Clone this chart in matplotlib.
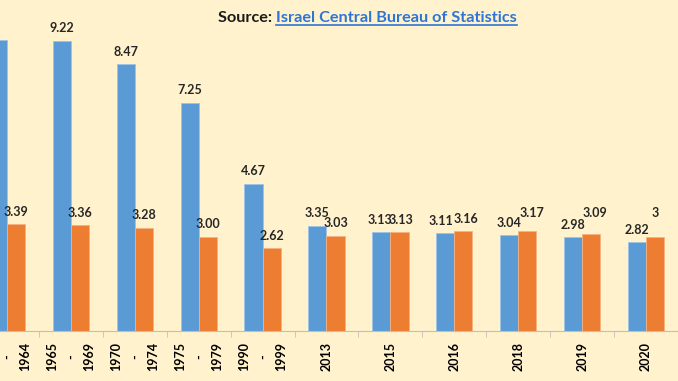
import matplotlib.pyplot as plt
import numpy as np

periods = ["1960\n-\n1964", "1965\n-\n1969", "1970\n-\n1974", "1975\n-\n1979",
           "1990\n-\n1999", "2013", "2015", "2016", "2018", "2019", "2020"]
series_a = [9.23, 9.22, 8.47, 7.25, 4.67, 3.35, 3.13, 3.11, 3.04, 2.98, 2.82]
series_b = [3.39, 3.36, 3.28, 3.00, 2.62, 3.03, 3.13, 3.16, 3.17, 3.09, 3.00]
labels_a = ["9.23", "9.22", "8.47", "7.25", "4.67", "3.35", "3.13", "3.11", "3.04", "2.98", "2.82"]
labels_b = ["3.39", "3.36", "3.28", "3.00", "2.62", "3.03", "3.13", "3.16", "3.17", "3.09", "3"]

bg = "#FFF2CC"
blue = "#5B9BD5"
orange = "#ED7D31"
W, H = 678, 381
unit = 64.55  # px per category
scale = 31.49  # px per value unit

fig = plt.figure(figsize=(W / 100, H / 100), dpi=100, facecolor=bg)
ax = fig.add_axes([0, 50 / H, 1, 331 / H], facecolor=bg)

x = np.arange(len(periods))
w = 18.3 / unit
ax.bar(x - w / 2, series_a, w, color=blue, edgecolor="#9DC3E6", linewidth=0.6)
ax.bar(x + w / 2, series_b, w, color=orange, edgecolor="#F4B183", linewidth=0.6)

ax.set_xlim(-7 / unit, (W - 7) / unit)
ax.set_ylim(0, 331 / scale)

# label nudges (points) where Excel moved them apart
lift_b = {8: 4, 9: 6, 10: 8}
shift_a = {6: -1, 7: -3}
shift_b = {6: 1, 7: 2, 8: 3, 9: 3}
for i in x:
    ax.annotate(labels_a[i], (x[i] - w / 2, series_a[i]),
                xytext=(shift_a.get(i, 0), 9),
                textcoords="offset points", ha="center", va="center",
                fontsize=9, fontweight="bold", color="#262626", family="Lato")
    ax.annotate(labels_b[i], (x[i] + w / 2, series_b[i]),
                xytext=(shift_b.get(i, 0), 9 + lift_b.get(i, 0)),
                textcoords="offset points", ha="center", va="center",
                fontsize=9, fontweight="bold", color="#262626", family="Lato")

for s in ["left", "right", "top"]:
    ax.spines[s].set_visible(False)
ax.spines["bottom"].set_color("#BFBFBF")
ax.set_yticks([])
ax.set_xticks(x)
ax.set_xticklabels(periods, rotation=90, fontsize=9, fontweight="bold",
                   family="Lato", linespacing=1.65, va="top")
ax.tick_params(axis="x", which="major", length=0, pad=8)
ax.set_xticks(x + 0.5, minor=True)
ax.tick_params(axis="x", which="minor", length=4, color="#BFBFBF")

t1 = fig.text(218 / W, 1 - 22 / H, "Source: ", fontsize=11.7, fontweight="bold",
              family="Lato", color="#1a1a1a", va="baseline", ha="left")
fig.canvas.draw()
bb = t1.get_window_extent()
t2 = fig.text(bb.x1 / W, 1 - 22 / H, "Israel Central Bureau of Statistics",
              fontsize=11.7, fontweight="bold", family="Lato", color="#2E75D6",
              va="baseline", ha="left")
fig.canvas.draw()
bb2 = t2.get_window_extent()
fig.add_artist(plt.Line2D([bb2.x0 / W, bb2.x1 / W], [1 - 24.5 / H, 1 - 24.5 / H],
                          color="#2E75D6", linewidth=1.2))

fig.savefig("out.png", dpi=100, facecolor=bg)
